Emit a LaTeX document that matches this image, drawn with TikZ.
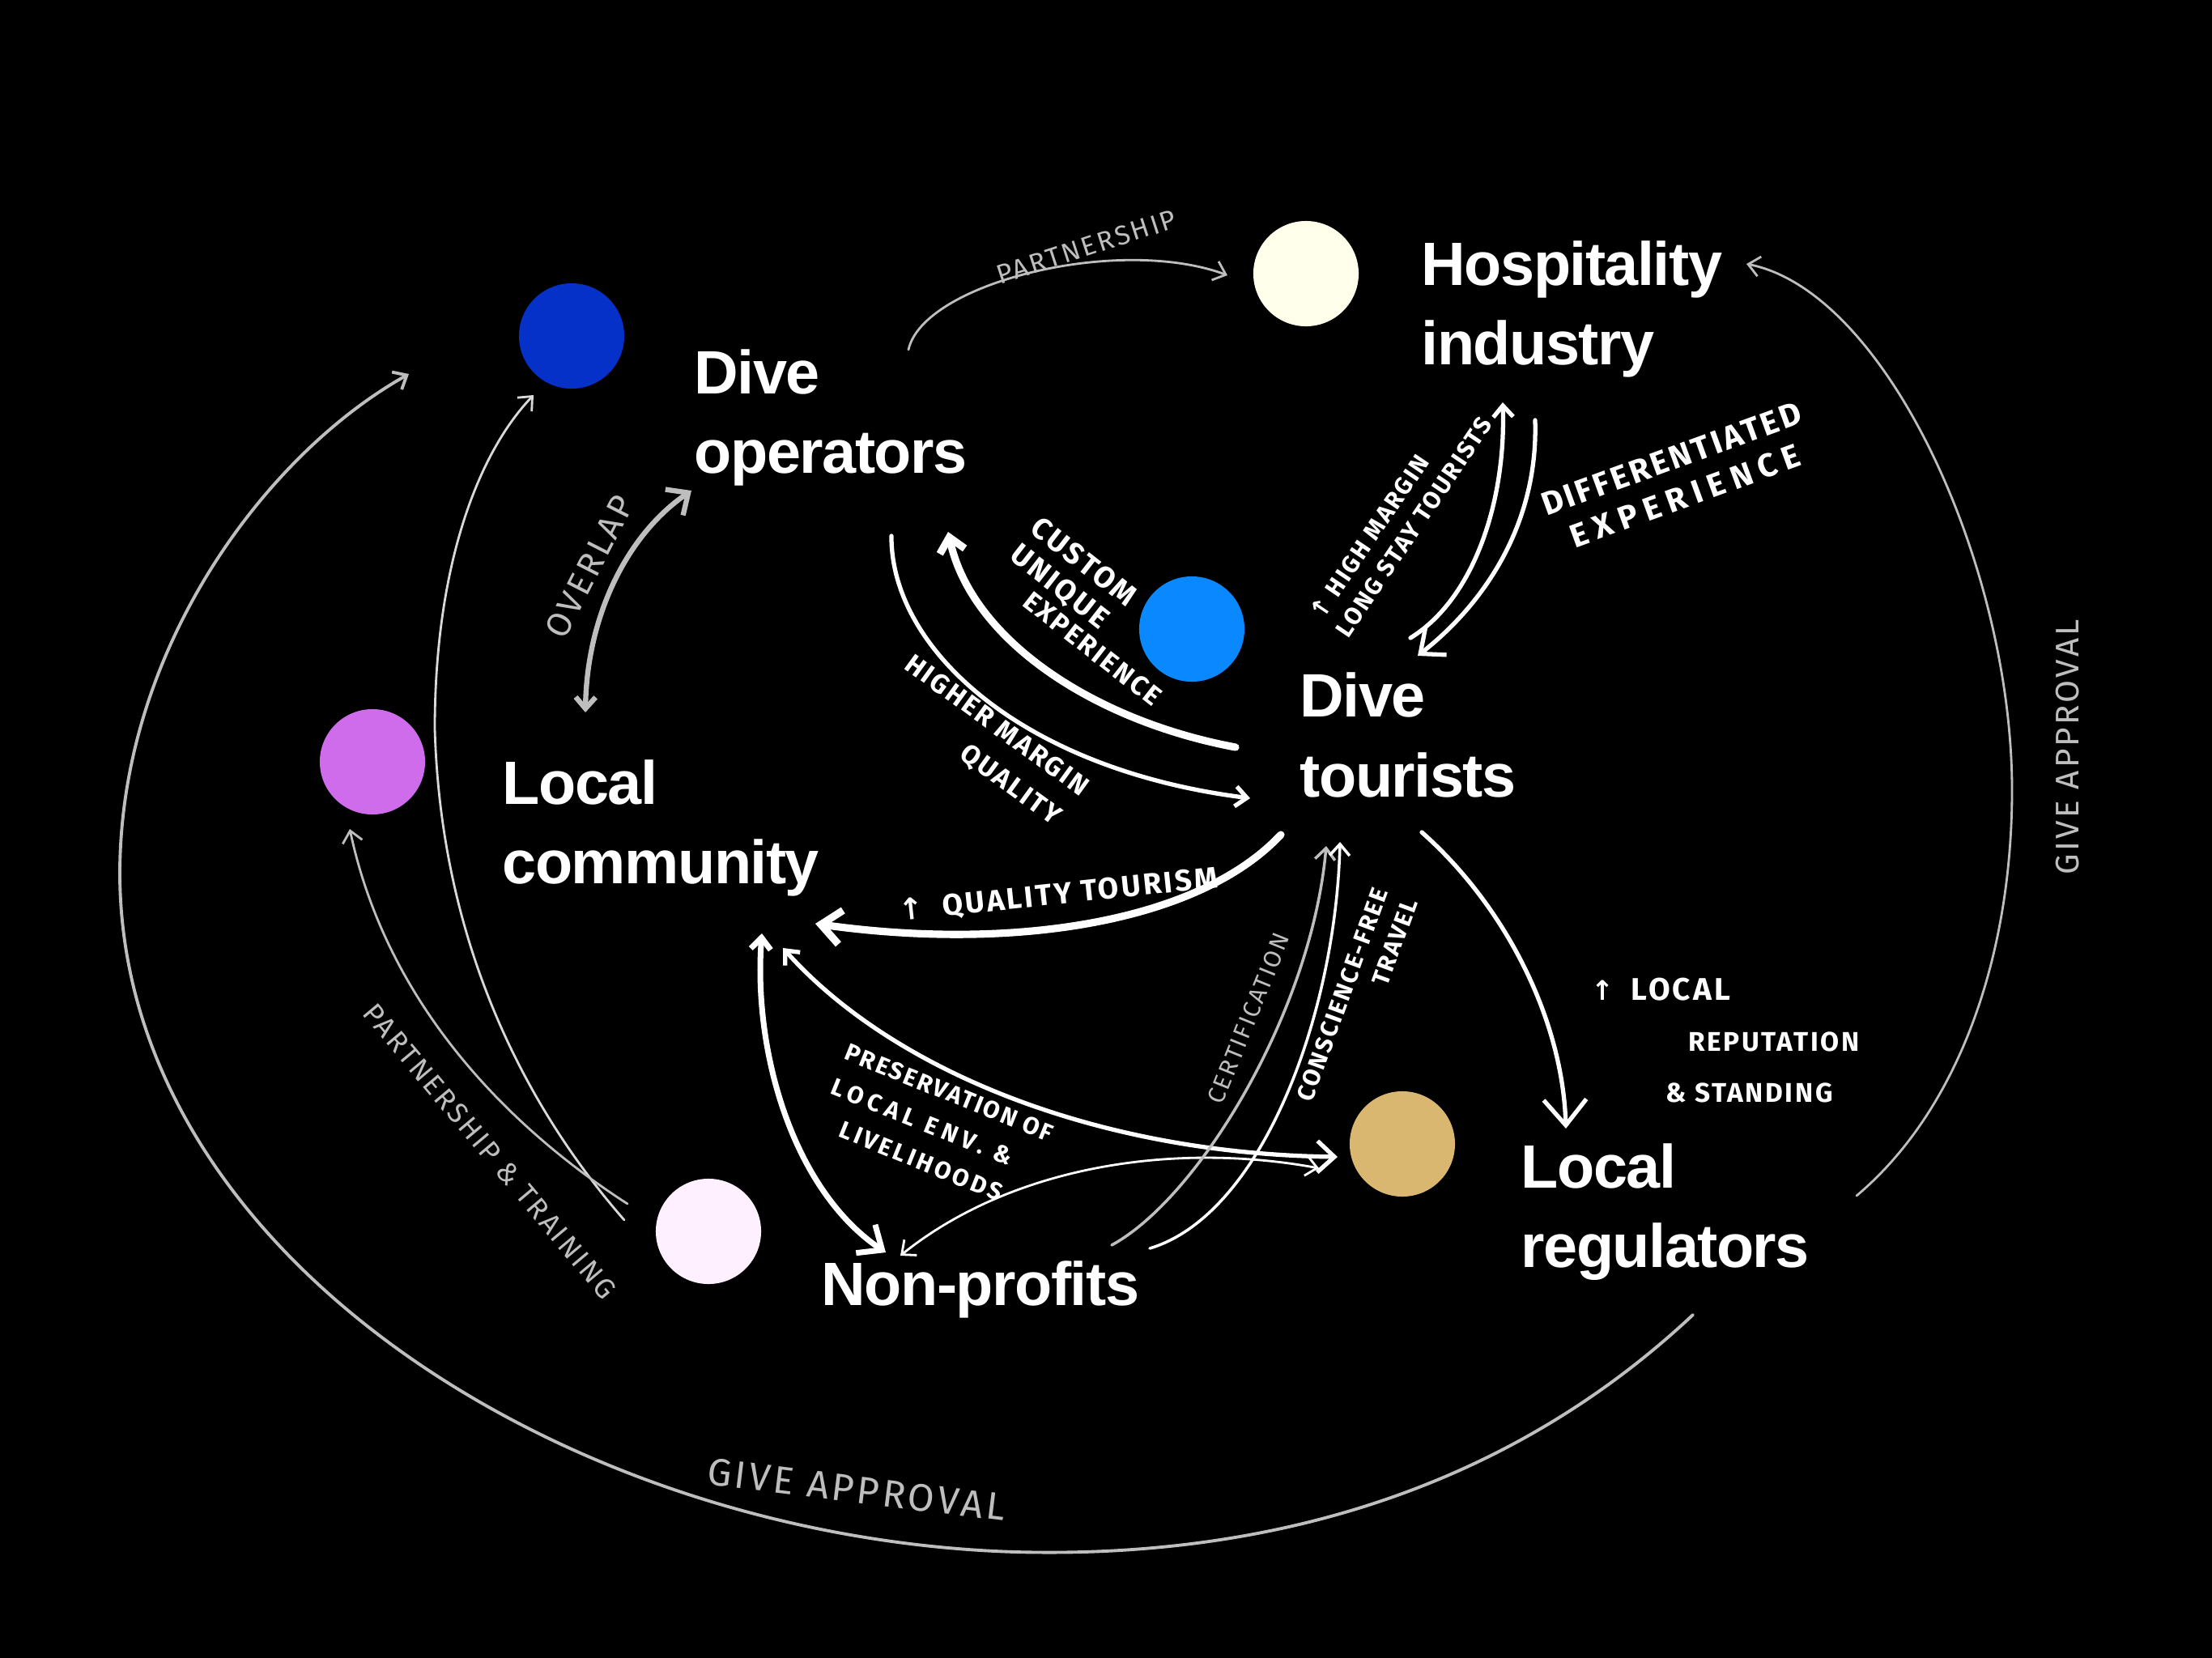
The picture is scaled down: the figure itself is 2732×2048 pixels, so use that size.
\documentclass[tikz,border=0pt]{standalone}
\usepackage{fontspec}
\setmainfont{Liberation Sans}
\newfontfamily\titlefont{Liberation Sans}[LetterSpace=-2]
\newfontfamily\handfont{Fira Sans}[LetterSpace=8]
\newfontfamily\symfont{DejaVu Sans}
\usetikzlibrary{arrows.meta}
\definecolor{cdark}{RGB}{6,49,201}
\definecolor{ccream}{RGB}{255,255,236}
\definecolor{cblue}{RGB}{10,136,255}
\definecolor{cpurple}{RGB}{206,108,236}
\definecolor{cpink}{RGB}{255,240,255}
\definecolor{cgold}{RGB}{217,183,112}
\definecolor{hgray}{RGB}{190,190,190}
\newcommand\hsz[2]{\handfont\fontsize{#1}{#2}\selectfont}
\newcommand\upar{{\symfont\char"2191}}
\newcommand\wide[2]{{\addfontfeature{LetterSpace=#1}#2}}
\tikzset{
  actor/.style={font=\titlefont\bfseries\fontsize{21.5}{28}\selectfont, text=white, anchor=west, align=left, inner sep=0pt},
  dot/.style={circle, minimum size=1.30cm, inner sep=0pt, draw=none},
  wlabel/.style={text=white, inner sep=0pt},
  glabel/.style={text=hgray, inner sep=0pt},
  wthick/.style={draw=white, line width=2.6pt},
  wmed/.style={draw=white, line width=1.5pt},
  wthin/.style={draw=white, line width=0.8pt},
  gthin/.style={draw=hgray, line width=0.8pt},
  gmed/.style={draw=hgray, line width=1.1pt},
  bigtip/.style={-{Straight Barb[length=7pt,width=12pt]}},
  smalltip/.style={-{Straight Barb[length=4pt,width=7pt]}}
}
\begin{document}
\begin{tikzpicture}[x=0.01cm,y=-0.01cm, line cap=round, line join=round]
\fill[black] (0,0) rectangle (2732,2048);
\useasboundingbox (0,0) rectangle (2732,2048);

% circles
\node[dot, fill=cdark]   (cDO) at (706,415)  {};
\node[dot, fill=ccream]  (cHI) at (1613,338) {};
\node[dot, fill=cblue]   (cDT) at (1472,777) {};
\node[dot, fill=cpurple] (cLC) at (460,941)  {};
\node[dot, fill=cpink]   (cNP) at (875,1521) {};
\node[dot, fill=cgold]   (cLR) at (1732,1413){};

% actor labels
\node[actor] (tDO) at (857,516)  {Dive\\operators};
\node[actor] (tHI) at (1755,382) {Hospitality\\industry};
\node[actor] (tDT) at (1605,908) {Dive\\tourists};
\node[actor] (tLC) at (620,1023) {Local\\community};
\node[actor] (tNP) at (1014,1593){Non-profits};
\node[actor] (tLR) at (1878,1497){Local\\regulators};

% end points
\coordinate (a1s) at (1122,432);  \coordinate (a1e) at (1516,340);
\coordinate (a2s) at (2293,1477); \coordinate (a2m) at (2485,976); \coordinate (a2e) at (2157,326);
\coordinate (a3s) at (2091,1624); \coordinate (a3m) at (1254,1917); \coordinate (a3n) at (148,1080); \coordinate (a3e) at (505,462);
\coordinate (a4s) at (771,1507);  \coordinate (a4m) at (537,900);  \coordinate (a4e) at (659,488);
\coordinate (a5s) at (775,1487);  \coordinate (a5e) at (432,1024);
\coordinate (a6s) at (723,880);   \coordinate (a6e) at (854,606);
\coordinate (a7s) at (1526,923);  \coordinate (a7e) at (1171,657);
\coordinate (a8s) at (1101,662);  \coordinate (a8e) at (1544,986);
\coordinate (a9s) at (1742,788);  \coordinate (a9e) at (1856,497);
\coordinate (a10s) at (1896,519); \coordinate (a10e) at (1751,810);
\coordinate (a11s) at (1582,1031);\coordinate (a11e) at (1007,1141);
\coordinate (a12s) at (1756,1028);\coordinate (a12e) at (1934,1394);
\coordinate (a13s) at (941,1153); \coordinate (a13e) at (1094,1547);
\coordinate (a14s) at (967,1171); \coordinate (a14e) at (1652,1429);
\coordinate (a15s) at (1112,1551);\coordinate (a15e) at (1629,1443);
\coordinate (a16s) at (1373,1538);\coordinate (a16e) at (1638,1045);
\coordinate (a17s) at (1420,1542);\coordinate (a17e) at (1655,1040);

% connectors
\draw[gthin, smalltip] (a1s) .. controls (1140,350) and (1380,290) .. (a1e);
\draw[gthin, smalltip] (a2s) .. controls (2420,1370) and (2485,1180) .. (a2m)
   .. controls (2485,700) and (2330,360) .. (a2e);
\draw[gmed, smalltip] (a3s) .. controls (1850,1850) and (1550,1925) .. (a3m)
   .. controls (700,1900) and (150,1550) .. (a3n)
   .. controls (148,800) and (330,560) .. (a3e);
\draw[gthin, draw=white!85!black, smalltip] (a4s) .. controls (660,1380) and (545,1180) .. (a4m)
   .. controls (537,700) and (590,560) .. (a4e);
\draw[gthin, smalltip] (a5s) .. controls (640,1400) and (480,1250) .. (a5e);
\draw[draw=hgray, line width=1.8pt, {Straight Barb[length=4pt,width=7pt]}-{Straight Barb[length=6pt,width=11pt]}]
   (a6s) .. controls (725,760) and (775,660) .. (a6e);
\draw[wthick, -{Straight Barb[length=5pt,width=9pt]}] (a7s) .. controls (1350,890) and (1200,790) .. (a7e);
\draw[wmed, smalltip] (a8s) .. controls (1100,800) and (1260,950) .. (a8e);
\draw[wmed, smalltip] (a9s) .. controls (1820,740) and (1860,620) .. (a9e);
\draw[wmed, bigtip] (a10s) .. controls (1900,640) and (1840,740) .. (a10e);
\draw[wthick, bigtip] (a11s) .. controls (1480,1140) and (1250,1175) .. (a11e);
\draw[wmed, -{Straight Barb[length=9pt,width=15pt]}] (a12s) .. controls (1860,1120) and (1930,1260) .. (a12e);
\draw[wmed, line width=2pt, {Straight Barb[length=4pt,width=7pt]}-{Straight Barb[length=7pt,width=12pt]}]
   (a13s) .. controls (930,1300) and (980,1470) .. (a13e);
\draw[wmed, {Straight Barb[length=4pt,width=7pt]}-{Straight Barb[length=6pt,width=11pt]}]
   (a14s) .. controls (1100,1320) and (1350,1425) .. (a14e);
\draw[wthin, {Straight Barb[length=4pt,width=7pt]}-{Straight Barb[length=4pt,width=7pt]}]
   (a15s) .. controls (1250,1440) and (1450,1410) .. (a15e);
\draw[gthin, line width=1pt, smalltip] (a16s) .. controls (1480,1480) and (1620,1250) .. (a16e);
\draw[wthin, line width=1pt, smalltip] (a17s) .. controls (1560,1500) and (1650,1250) .. (a17e);

% connector labels
\node[glabel, rotate=18, font=\hsz{9.5}{12}] (lPart) at (1342,305) {PARTNERSHIP};
\node[glabel, rotate=90, font=\hsz{11.5}{14}] (lGA1) at (2554,923) {GIVE APPROVAL};
\node[glabel, rotate=-7, font=\hsz{13.5}{16}] (lGA2) at (1058,1840) {GIVE APPROVAL};
\node[glabel, rotate=63, font=\hsz{12}{14}] (lOver) at (728,700) {OVERLAP};
\node[glabel, rotate=-50, font=\hsz{10}{12}] (lPT) at (605,1422) {PARTNERSHIP \& TRAINING};
\node[wlabel, rotate=-38, anchor=north west, align=left, font=\hsz{10.5}{12}\bfseries] (lCust) at (1287,635)
   {CUSTOM\\UNIQUE\\[-2pt]\hspace*{1.3em}{\hsz{9.5}{12}\bfseries EXPERIENCE}};
\node[wlabel, rotate=-36, align=center, font=\hsz{9.5}{14}\bfseries] (lHM) at (1216,917)
   {HIGHER MARGIN\\\hspace*{3.4em}QUALITY};
\node[wlabel, rotate=56, align=left, font=\hsz{8.5}{11}\bfseries] (lHL) at (1730,640)
   {\upar\ HIGH MARGIN\\LONG STAY TOURISTS};
\node[wlabel, rotate=20, align=center, font=\hsz{11.5}{14}\bfseries] (lDiff) at (2073,590)
   {DIFFERENTIATED\\\wide{22}{EXPERIENCE}};
\node[wlabel, rotate=6, font=\hsz{10.5}{13}\bfseries] (lQT) at (1307,1106) {\upar\ \ QUALITY TOURISM};
\node[wlabel, anchor=north west, align=left, font=\hsz{9.5}{18}\bfseries] (lRep) at (1965,1207)
   {\upar\ \ {\hsz{11}{18}\bfseries LOCAL}\\\hspace*{34pt}REPUTATION\\\hspace*{26pt}\& STANDING};
\node[wlabel, rotate=-22, align=left, font=\hsz{8.5}{13}\bfseries] (lPres) at (1155,1392)
   {PRESERVATION OF\\\wide{22}{LOCAL ENV. \&}\\\hspace*{1em}\wide{12}{LIVELIHOODS}};
\node[glabel, rotate=68, font=\hsz{8.5}{11}] (lCert) at (1542,1258) {CERTIFICATION};
\node[wlabel, rotate=70, align=right, font=\hsz{8.5}{11}\bfseries] (lCons) at (1676,1235) {CONSCIENCE-FREE\\TRAVEL};
\end{tikzpicture}
\end{document}
